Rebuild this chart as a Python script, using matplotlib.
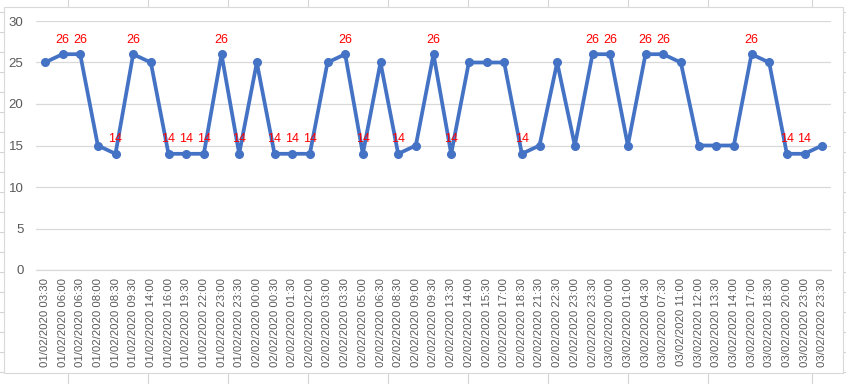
import matplotlib
matplotlib.use('Agg')
import matplotlib.pyplot as plt
from matplotlib.patches import Rectangle
from matplotlib.lines import Line2D

# categories (timestamps) and values
labels = [
    '01/02/2020 03:30', '01/02/2020 06:00', '01/02/2020 06:30', '01/02/2020 08:00',
    '01/02/2020 08:30', '01/02/2020 09:30', '01/02/2020 14:00', '01/02/2020 16:00',
    '01/02/2020 19:30', '01/02/2020 22:00', '01/02/2020 23:00', '01/02/2020 23:30',
    '02/02/2020 00:00', '02/02/2020 00:30', '02/02/2020 01:30', '02/02/2020 02:00',
    '02/02/2020 03:00', '02/02/2020 03:30', '02/02/2020 05:00', '02/02/2020 06:30',
    '02/02/2020 08:30', '02/02/2020 09:00', '02/02/2020 09:30', '02/02/2020 13:30',
    '02/02/2020 14:00', '02/02/2020 15:30', '02/02/2020 17:00', '02/02/2020 18:30',
    '02/02/2020 21:30', '02/02/2020 22:30', '02/02/2020 23:00', '02/02/2020 23:30',
    '03/02/2020 00:00', '03/02/2020 01:00', '03/02/2020 04:30', '03/02/2020 07:30',
    '03/02/2020 11:00', '03/02/2020 12:00', '03/02/2020 13:30', '03/02/2020 14:00',
    '03/02/2020 17:00', '03/02/2020 18:30', '03/02/2020 20:00', '03/02/2020 23:00',
    '03/02/2020 23:30',
]
values = [25, 26, 26, 15, 14, 26, 25, 14, 14, 14, 26, 14, 25, 14, 14, 14, 25, 26,
          14, 25, 14, 15, 26, 14, 25, 25, 25, 14, 15, 25, 15, 26, 26, 15, 26, 26,
          25, 15, 15, 15, 26, 25, 14, 14, 15]
yticks = [0, 5, 10, 15, 20, 25, 30]

W, H = 846, 384
fig = plt.figure(figsize=(W / 100, H / 100), dpi=100)
fig.patch.set_facecolor('white')

# spreadsheet cell grid behind the chart
cell = '#d4d4d4'
for x in [68, 148, 228, 308, 388, 468, 548, 628, 708, 812]:
    fig.add_artist(Line2D([x / W, x / W], [0, 1], color=cell, lw=0.8, zorder=0))
for y in range(12, H, 20):
    fig.add_artist(Line2D([0, 1], [1 - y / H, 1 - y / H], color=cell, lw=0.8, zorder=0))

# chart area
fig.add_artist(Rectangle((4 / W, 1 - 373 / H), 839 / W, 366 / H, transform=fig.transFigure,
                         facecolor='white', edgecolor='#d9d9d9', lw=0.8, zorder=1))

ax = fig.add_axes([36 / W, 1 - 270 / H, 795 / W, 249 / H], zorder=2)
ax.set_facecolor('white')

x = list(range(len(values)))
ax.plot(x, values, color='#4472C4', lw=2.7, marker='o', markersize=5.5, zorder=3)

vmax, vmin = max(values), min(values)
for i, v in enumerate(values):
    if v == vmax or v == vmin:
        ax.annotate(str(v), (i, v), xytext=(0, 6), textcoords='offset points',
                    ha='center', va='bottom', color='#ff0000', fontsize=9,
                    family='Liberation Sans', zorder=4)

ax.set_xlim(-0.5, len(values) - 0.5)
ax.set_ylim(0, 30)
ax.set_yticks(yticks)
ax.set_xticks(x)
ax.set_xticklabels(labels, rotation=90, fontsize=8.2, color='#595959', family='Liberation Sans')
ax.tick_params(axis='y', length=0, pad=9, labelsize=9.5, labelcolor='#595959')
ax.tick_params(axis='x', length=0, pad=6)
for t in ax.get_yticklabels():
    t.set_family('Liberation Sans')
ax.grid(axis='y', color='#d9d9d9', lw=0.9)
ax.set_axisbelow(True)
for s in ['left', 'right', 'top']:
    ax.spines[s].set_visible(False)
ax.spines['bottom'].set_color('#d9d9d9')
ax.spines['bottom'].set_linewidth(0.9)

fig.savefig('out.png', dpi=100)
